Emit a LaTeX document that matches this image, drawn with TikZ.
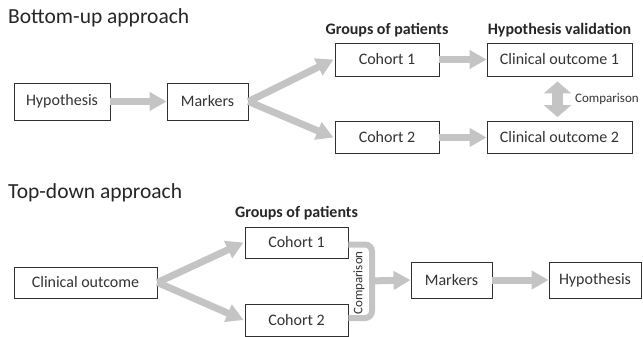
\documentclass[tikz,border=0pt]{standalone}
\usepackage{fontspec}
\setmainfont{Carlito}
\usetikzlibrary{arrows.meta}
\definecolor{arrowgray}{HTML}{C4C4C4}
\definecolor{boxline}{HTML}{303030}
\tikzset{
  box/.style={draw=boxline, line width=0.9pt, fill=white, inner sep=0pt, font=\fontsize{16}{19}\selectfont, text=black!80},
  garrow/.style={draw=arrowgray, line width=7pt, -{Triangle[length=17pt,width=18pt]}},
  dgarrow/.style={draw=arrowgray, line width=11pt, {Triangle[length=12pt,width=27pt]}-{Triangle[length=12pt,width=27pt]}},
  bracket/.style={draw=arrowgray, line width=6pt, rounded corners=7pt},
  title/.style={anchor=base west, inner sep=0pt, font=\fontsize{21.5}{24}\selectfont, text=black!85},
  head/.style={anchor=base, inner sep=0pt, font=\bfseries\fontsize{16}{19}\selectfont, text=black!85},
  small/.style={inner sep=0pt, font=\fontsize{13}{15}\selectfont, text=black!80}
}
\begin{document}
\begin{tikzpicture}[x=1pt,y=-1pt]
\useasboundingbox (0,0) rectangle (643,337);
% ---------- Bottom-up ----------
\node[title] (t1) at (8,24) {Bottom-up approach};
\node[head] (g1) at (387,35) {Groups of patients};
\node[head] (hv) at (559.5,35) {Hypothesis validation};

\node[box, minimum width=96pt, minimum height=37pt] (hyp1) at (62,101.5) {Hypothesis};
\node[box, minimum width=81pt, minimum height=37pt] (mk1) at (207.5,101.5) {Markers};
\node[box, minimum width=104pt, minimum height=33pt] (c1a) at (387,59.5) {Cohort 1};
\node[box, minimum width=145pt, minimum height=33pt] (co1) at (559.5,59.5) {Clinical outcome 1};
\node[box, minimum width=104pt, minimum height=32pt] (c2a) at (387,137.5) {Cohort 2};
\node[box, minimum width=145pt, minimum height=32pt] (co2) at (559.5,137.5) {Clinical outcome 2};

\draw[garrow] (hyp1.east) -- (mk1.west);
\draw[garrow] (mk1.east) -- ([xshift=-1pt]c1a.west);
\draw[garrow] (mk1.east) -- ([xshift=-1pt]c2a.west);
\draw[garrow] (c1a.east) -- (co1.west);
\draw[garrow] (c2a.east) -- (co2.west);
\draw[dgarrow, shorten <=5pt, shorten >=4pt] ([xshift=-2pt]co1.south) -- ([xshift=-2pt]co2.north);
\node[small, anchor=west] (cmp1) at (575,99) {Comparison};

% ---------- Top-down ----------
\node[title] (t2) at (8,198.5) {Top-down approach};
\node[head] (g2) at (296.5,217) {Groups of patients};

\node[box, minimum width=143pt, minimum height=31pt] (co) at (85.5,282.5) {Clinical outcome};
\node[box, minimum width=103pt, minimum height=31pt] (c1b) at (296.5,242.5) {Cohort 1};
\node[box, minimum width=103pt, minimum height=32pt] (c2b) at (296.5,320) {Cohort 2};
\node[box, minimum width=81pt, minimum height=36pt] (mk2) at (451.5,280) {Markers};
\node[box, minimum width=92pt, minimum height=36pt] (hyp2) at (595,280) {Hypothesis};

\draw[garrow] (co.east) -- ([xshift=-1pt]c1b.west);
\draw[garrow] (co.east) -- ([xshift=-1pt]c2b.west);
\coordinate (bx) at (372,281);
\coordinate (b1) at ([yshift=-2pt]c1b.east);
\coordinate (b2) at ([yshift=2pt]c2b.east);
\draw[bracket] (b1) -- (bx |- b1) -- (bx |- b2) -- (b2);
\draw[garrow] ([xshift=-3pt]bx) -- (mk2.west);
\draw[garrow] (mk2.east) -- (hyp2.west);
\node[small, rotate=90] (cmp2) at (359,283) {Comparison};
\end{tikzpicture}
\end{document}
